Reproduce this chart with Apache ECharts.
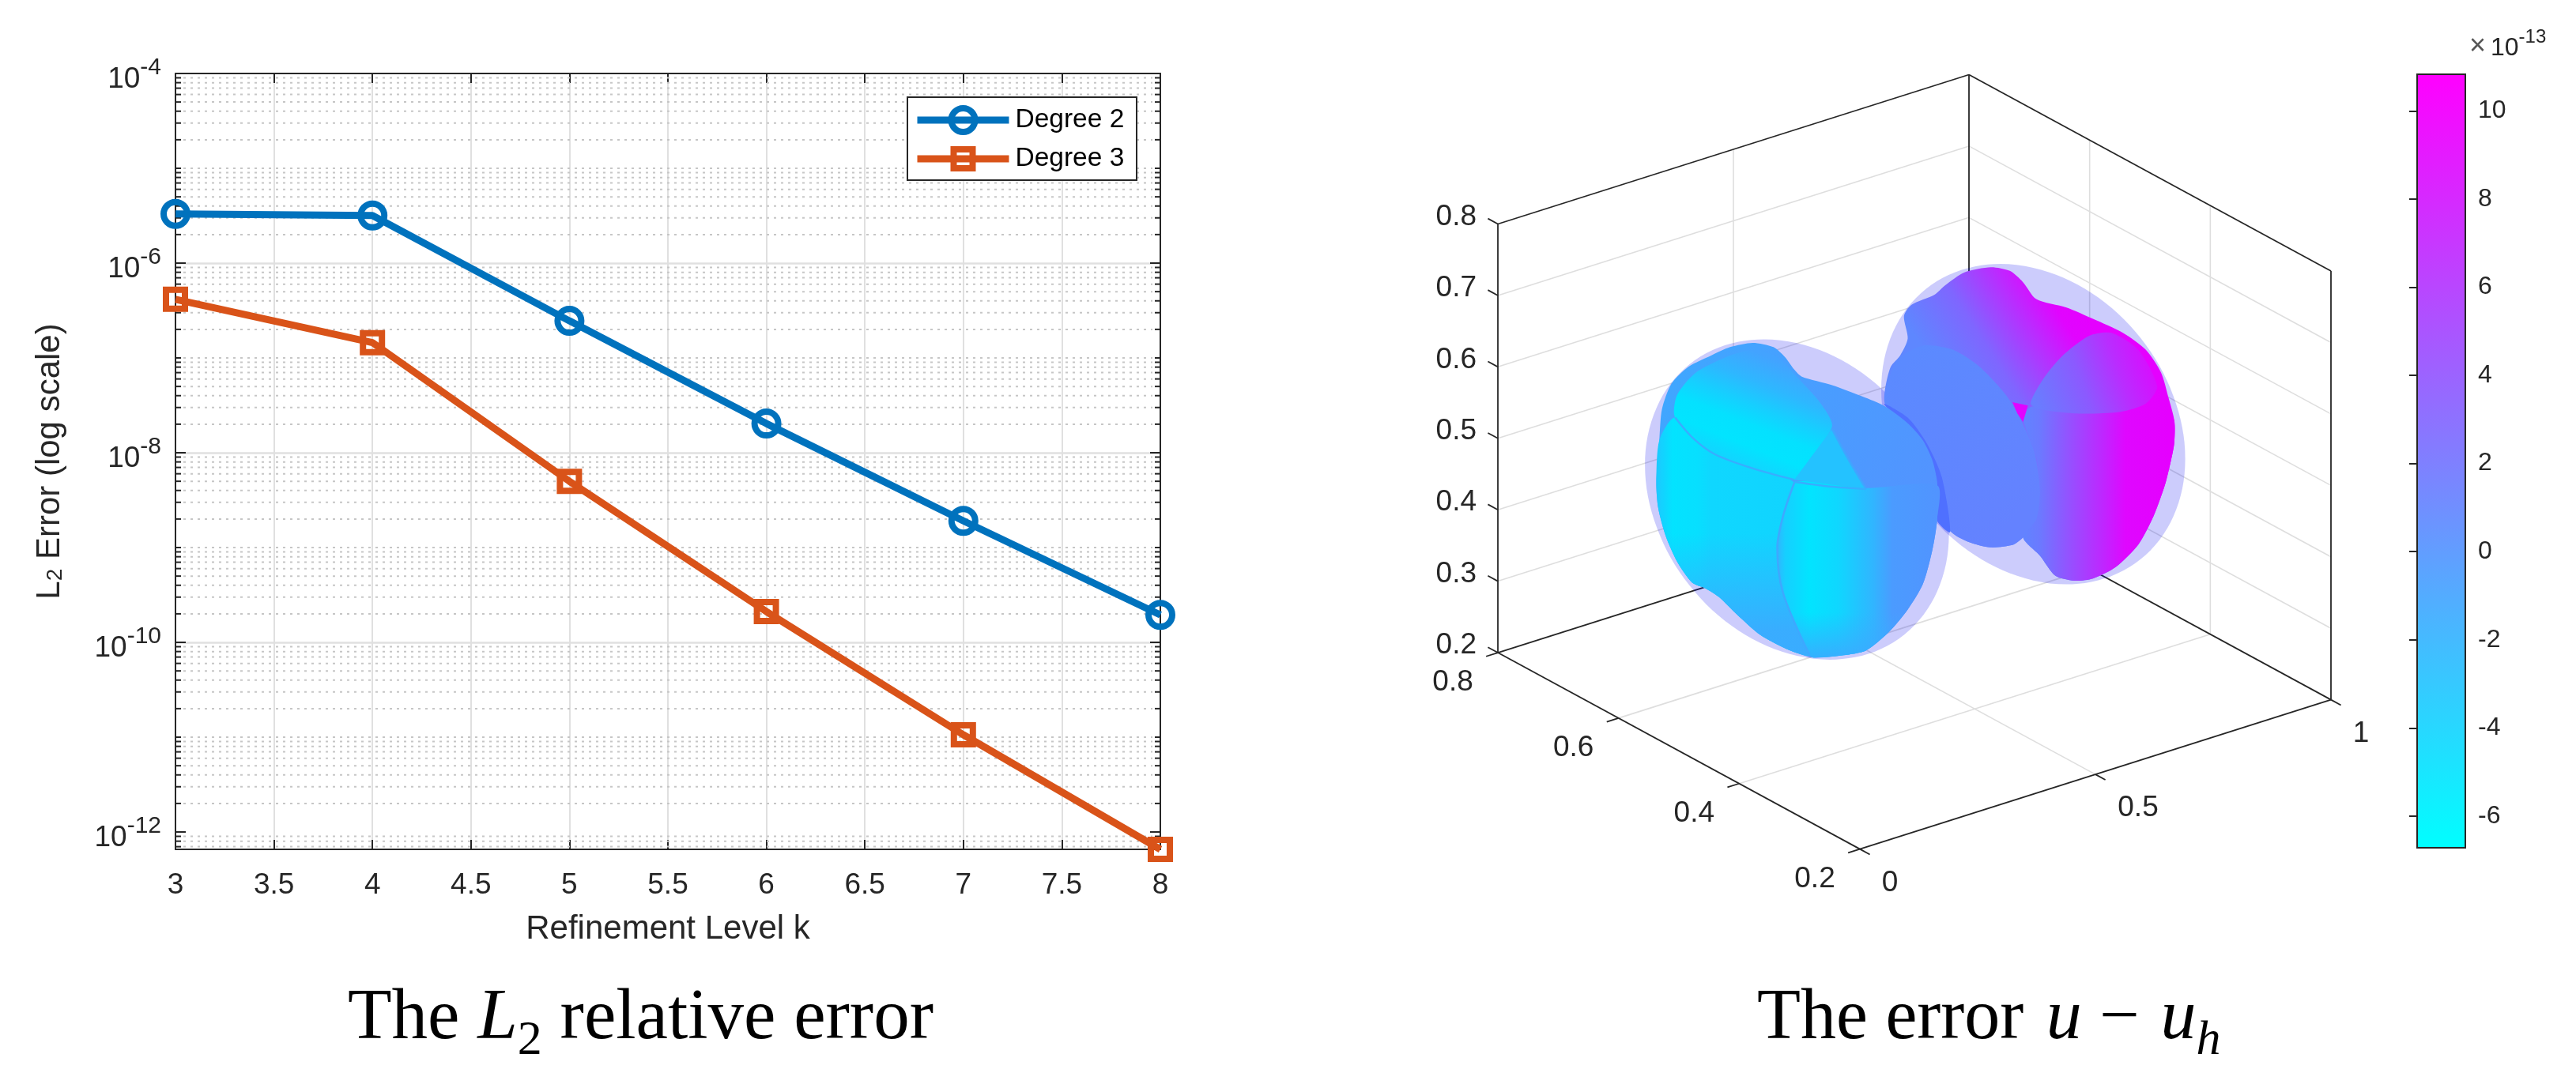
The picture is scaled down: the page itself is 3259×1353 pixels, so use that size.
<!DOCTYPE html>
<html>
<head>
<meta charset="utf-8">
<style>html,body{margin:0;padding:0;background:#fff;overflow:hidden}#chart{width:3259px;height:1353px}</style>
<script src="https://cdn.jsdelivr.net/npm/echarts@6/dist/echarts.min.js"></script>
</head>
<body>
<div id="chart"></div>
<script>
// ---------- left panel data ----------
const levels = [3, 4, 5, 6, 7, 8];
const degree2 = [3.3e-6, 3.18e-6, 2.46e-7, 2.03e-8, 1.91e-9, 1.95e-10];
const degree3 = [4.15e-7, 1.45e-7, 5.0e-9, 2.11e-10, 1.06e-11, 6.56e-13];
const errMin = 6.56e-13, errMax = 1e-4;
const decadeLabels = [1e-12, 1e-10, 1e-8, 1e-6, 1e-4];
const allDecades = [1e-13, 1e-12, 1e-11, 1e-10, 1e-9, 1e-8, 1e-7, 1e-6, 1e-5];
const oddDecades = [1e-11, 1e-9, 1e-7, 1e-5];
const mantissas = [2, 3, 4, 5, 6, 7, 8, 9];

// ---------- right panel: axes of the 3D box ----------
const xTicks3d = [0, 0.5, 1];
const yTicks3d = [0.2, 0.4, 0.6, 0.8];
const zTicks3d = [0.2, 0.3, 0.4, 0.5, 0.6, 0.7, 0.8];

// ---------- right panel: surfaces, outlines ----------
const shellLeft = [[869,1053],[838,1256],[751,1409],[621,1489],[467,1484],[313,1395],[183,1235],[96,1028],[65,807],[96,604],[183,451],[313,371],[467,376],[621,465],[751,625],[838,832]];
const shellRight = [[1494,786],[1463,989],[1376,1142],[1246,1222],[1092,1217],[938,1128],[808,968],[721,761],[690,540],[721,337],[808,184],[938,104],[1092,109],[1246,198],[1376,358],[1463,565]];
const leftBody = [[350,375],[405,390],[435,425],[460,470],[480,495],[560,525],[640,565],[700,600],[760,660],[800,720],[825,790],[838,870],[838,1000],[825,1110],[800,1230],[760,1320],[710,1400],[650,1465],[590,1482],[510,1490],[440,1460],[370,1410],[310,1340],[260,1275],[225,1245],[190,1225],[150,1150],[120,1060],[100,960],[95,870],[103,720],[110,610],[135,520],[180,460],[240,420],[290,390]];
const leftUpper = [[145,640],[150,560],[200,480],[290,420],[355,400],[420,430],[470,500],[530,590],[560,670],[500,790],[460,860],[350,820],[250,770]];
const leftLower = [[103,720],[145,640],[250,770],[460,870],[430,990],[415,1100],[430,1260],[500,1480],[440,1460],[370,1410],[310,1340],[260,1275],[225,1245],[190,1225],[150,1150],[120,1060],[100,960],[95,870]];
const leftRight = [[460,870],[650,890],[838,880],[838,1000],[825,1110],[800,1230],[760,1320],[710,1400],[650,1465],[590,1482],[510,1490],[500,1480],[430,1260],[415,1100],[430,990]];
const leftWedge = [[460,860],[560,680],[600,780],[650,893]];
const rightBody = [[980,107],[1030,120],[1065,160],[1100,220],[1180,250],[1250,290],[1330,340],[1390,400],[1430,480],[1450,570],[1465,650],[1465,730],[1455,800],[1440,880],[1410,990],[1370,1090],[1310,1170],[1250,1210],[1200,1218],[1150,1200],[1110,1130],[1065,1065],[1040,1090],[980,1100],[920,1080],[875,1045],[838,1005],[800,800],[700,590],[700,540],[715,460],[740,420],[760,360],[750,280],[770,240],[830,205],[860,170],[910,125]];
const rightMiddle = [[700,590],[730,440],[800,385],[880,400],[950,460],[1020,560],[1060,650],[1095,760],[1110,900],[1100,1000],[1065,1065],[1040,1090],[980,1100],[920,1080],[875,1045],[845,950],[810,800],[760,660]];
const rightCrescent = [[697,590],[760,640],[810,730],[850,850],[872,1045],[838,1005],[825,860],[785,720],[730,640]];
const rightLobe = [[1065,640],[1100,780],[1110,900],[1100,1000],[1065,1065],[1110,1130],[1150,1200],[1200,1218],[1250,1210],[1310,1170],[1370,1090],[1410,990],[1440,880],[1455,800],[1465,730],[1465,650],[1430,540],[1390,590],[1290,625],[1090,600]];
const rightCap = [[1085,590],[1120,500],[1170,420],[1240,350],[1300,340],[1370,400],[1420,530],[1390,590],[1320,620],[1200,625],[1110,610]];
const rightTip = [[1037,585],[1078,597],[1065,655],[1050,625]];
const seamUpper = [[145,640],[190,710],[250,770],[350,820],[460,860]];
const seamLower = [[460,870],[430,990],[415,1100],[430,1260],[500,1480]];
const seamWedge = [[560,680],[600,780],[650,893]];
const seamFlat = [[460,868],[560,885],[650,893]];

// ---------- colour bar ----------
const cbMin = -6.72, cbMax = 10.83;
const cbTicks = [-6, -4, -2, 0, 2, 4, 6, 8, 10];

// ---------- helpers ----------
const SANS = '"Liberation Sans", Arial, sans-serif';
const SERIF = '"Liberation Serif", serif';
const INK = '#262626';
const BLUE = '#0072BD', ORANGE = '#D95319';

function cool(v, alpha) {
  const t = Math.max(0, Math.min(1, (v - cbMin) / (cbMax - cbMin)));
  const r = 255 * t * 0.9, g = 255 * (1 - t) * 0.9, b = 255;
  return 'rgba(' + Math.round(r) + ',' + Math.round(g) + ',' + b + ',' + (alpha === undefined ? 1 : alpha) + ')';
}
function grad(from, to, stops) { return { from, to, stops }; }
const SOFT = 0.25;
const surfaceLayers = [
  { pts: shellLeft, smooth: 0.35, fill: 'rgba(0,0,240,0.2)' },
  { pts: shellRight, smooth: 0.35, fill: 'rgba(0,0,240,0.2)' },
  { pts: rightBody, smooth: SOFT, g: grad([850,500],[1200,200],[[0,0.5],[0.35,3],[0.65,7.5],[0.85,10.5],[1,10.8]]) },
  { pts: rightMiddle, smooth: SOFT, g: grad([700,400],[1110,900],[[0,0.2],[1,0.9]]) },
  { pts: rightCrescent, smooth: SOFT, fill: '#4f70ff' },
  { pts: rightLobe, smooth: SOFT, g: grad([1070,800],[1450,800],[[0,0.8],[0.1,1.5],[0.3,4.5],[0.55,8],[0.7,10.3],[1,10.8]]) },
  { pts: rightCap, smooth: SOFT, g: grad([1100,600],[1420,450],[[0,1.2],[0.4,4],[0.7,7.5],[1,10.2]]) },
  { pts: rightTip, g: grad([1040,600],[1080,600],[[0,10.5],[1,10.5]]) },
  { pts: leftBody, smooth: SOFT, g: grad([100,400],[838,900],[[0,-2],[1,-0.4]]) },
  { pts: leftUpper, smooth: SOFT, g: grad([310,810],[420,440],[[0,-5.2],[0.2,-6.6],[0.38,-6.4],[0.55,-5],[0.75,-3.2],[1,-1.6]]) },
  { pts: leftLower, smooth: SOFT, g: grad([95,900],[460,900],[[0,-4.5],[0.12,-6.5],[0.3,-6.2],[0.4,-5.6],[1,-5.4]]) },
  { pts: leftLower, smooth: SOFT, g: grad([95,1050],[95,1400],[[0,-2,0],[1,-2,0.9]]) },
  { pts: leftRight, smooth: SOFT, g: grad([415,1000],[838,1000],[[0,-3],[0.05,-5],[0.2,-6.6],[0.38,-5.6],[0.6,-3],[0.72,-1],[1,-0.5]]) },
  { pts: leftRight, smooth: SOFT, g: grad([415,1330],[415,1490],[[0,-2.2,0],[1,-2.2,0.9]]) },
  { pts: leftWedge, fill: cool(-4) }
];
const seams = [
  { pts: seamUpper, color: cool(-2.5) },
  { pts: seamLower, color: cool(-2) },
  { pts: seamWedge, color: cool(-1.8) },
  { pts: seamFlat, color: cool(-2.5) }
];

// orthographic view of the 3D box, in units of the hidden view axes
function project(x, y, z) {
  return [2353 + 596 * x - 763.3 * (y - 0.2), 1074.6 - 189 * x - 414.3 * (y - 0.2) - 904.2 * (z - 0.2)];
}
function seg(api, a, b, stroke, width) {
  const p = api.coord(project(a[0], a[1], a[2]));
  const q = api.coord(project(b[0], b[1], b[2]));
  return { type: 'line', shape: { x1: p[0], y1: p[1], x2: q[0], y2: q[1] }, style: { stroke, lineWidth: width } };
}
function text3d(api, at, dx, dy, label, align) {
  const p = api.coord(project(at[0], at[1], at[2]));
  return { type: 'text', style: { x: p[0] + dx, y: p[1] + dy, text: label, font: '37px ' + SANS, fill: INK, align: align, verticalAlign: 'middle' } };
}
function renderBox(params, api) {
  const kids = [];
  const GRID = '#dedede';
  zTicks3d.forEach(function (z) {
    if (z > 0.2 && z < 0.8) {
      kids.push(seg(api, [0, 0.8, z], [1, 0.8, z], GRID, 1.6));
      kids.push(seg(api, [1, 0.8, z], [1, 0.2, z], GRID, 1.6));
    }
  });
  xTicks3d.forEach(function (x) {
    if (x > 0 && x < 1) {
      kids.push(seg(api, [x, 0.8, 0.2], [x, 0.8, 0.8], GRID, 1.6));
      kids.push(seg(api, [x, 0.2, 0.2], [x, 0.8, 0.2], GRID, 1.6));
    }
  });
  yTicks3d.forEach(function (y) {
    if (y > 0.2 && y < 0.8) {
      kids.push(seg(api, [1, y, 0.2], [1, y, 0.8], GRID, 1.6));
      kids.push(seg(api, [0, y, 0.2], [1, y, 0.2], GRID, 1.6));
    }
  });
  const edges = [
    [[0,0.8,0.8],[1,0.8,0.8]], [[1,0.8,0.8],[1,0.2,0.8]],
    [[0,0.8,0.2],[0,0.8,0.8]], [[1,0.2,0.2],[1,0.2,0.8]], [[1,0.8,0.2],[1,0.8,0.8]],
    [[0,0.8,0.2],[1,0.8,0.2]], [[1,0.8,0.2],[1,0.2,0.2]],
    [[0,0.8,0.2],[0,0.2,0.2]], [[0,0.2,0.2],[1,0.2,0.2]]
  ];
  edges.forEach(function (e) { kids.push(seg(api, e[0], e[1], INK, 1.8)); });
  zTicks3d.forEach(function (z) {
    kids.push(seg(api, [0, 0.8, z], [0, 0.8165, z], INK, 1.8));
    kids.push(text3d(api, [0, 0.8, z], -27, -9, z.toFixed(1), 'right'));
  });
  yTicks3d.forEach(function (y) {
    kids.push(seg(api, [0, y, 0.2], [-0.025, y, 0.2], INK, 1.8));
    kids.push(text3d(api, [0, y, 0.2], -57, 38, y.toFixed(1), 'center'));
  });
  xTicks3d.forEach(function (x) {
    kids.push(seg(api, [x, 0.2, 0.2], [x, 0.1835, 0.2], INK, 1.8));
    kids.push(text3d(api, [x, 0.2, 0.2], x === 0.5 ? 54 : 38, 43, String(x), 'center'));
  });
  return { type: 'group', children: kids };
}
function renderSurface(params, api) {
  const layer = surfaceLayers[api.value(0)];
  let fill = layer.fill;
  if (layer.g) {
    const a = api.coord(layer.g.from), b = api.coord(layer.g.to);
    fill = new echarts.graphic.LinearGradient(a[0], a[1], b[0], b[1],
      layer.g.stops.map(function (s) { return { offset: s[0], color: cool(s[1], s[2]) }; }), true);
  }
  return { type: 'polygon', shape: { points: layer.pts.map(function (p) { return api.coord(p); }), smooth: layer.smooth || 0 }, style: { fill: fill } };
}
function renderSeam(params, api) {
  const s = seams[api.value(0)];
  return { type: 'polyline', shape: { points: s.pts.map(function (p) { return api.coord(p); }), smooth: 0.3 }, style: { stroke: s.color, lineWidth: 2.5, fill: null } };
}
function renderMinor(params, api) {
  const v = api.value(0);
  const a = api.coord([3, v]), b = api.coord([8, v]);
  return { type: 'group', children: [
    { type: 'line', shape: { x1: a[0] + 10, y1: a[1], x2: b[0] - 10, y2: b[1] }, style: { stroke: '#c6c6c6', lineWidth: 2, lineDash: [3, 6] } },
    { type: 'line', shape: { x1: a[0], y1: a[1], x2: a[0] + 7, y2: a[1] }, style: { stroke: INK, lineWidth: 2 } },
    { type: 'line', shape: { x1: b[0] - 7, y1: b[1], x2: b[0], y2: b[1] }, style: { stroke: INK, lineWidth: 2 } }
  ] };
}
function renderColorbar(params, api) {
  const a = api.coord([0, cbMax]), b = api.coord([1, cbMin]);
  return { type: 'rect', shape: { x: a[0], y: a[1], width: b[0] - a[0], height: b[1] - a[1] },
    style: { fill: new echarts.graphic.LinearGradient(0, 0, 0, 1, [
      { offset: 0, color: 'rgb(255,0,255)' }, { offset: 1, color: 'rgb(0,255,255)' } ]), stroke: INK, lineWidth: 2 } };
}
const minorValues = [];
allDecades.forEach(function (d) {
  mantissas.forEach(function (m) {
    const v = d * m;
    if (v > errMin && v < errMax) minorValues.push([v]);
  });
});
oddDecades.forEach(function (d) { minorValues.push([d]); });

const chart = echarts.init(document.getElementById('chart'), null, { renderer: 'canvas' });
const supRich = {
  b: { fontSize: 37, fontFamily: SANS, color: INK, verticalAlign: 'bottom', lineHeight: 52 },
  s: { fontSize: 30, fontFamily: SANS, color: INK, verticalAlign: 'top', padding: [4, 0, 0, 0] }
};
const legendText = { fontSize: 33.5, color: '#000', fontFamily: SANS, padding: [0, 0, 0, 3] };
chart.setOption({
  animation: false,
  backgroundColor: '#ffffff',
  textStyle: { fontFamily: SANS },
  title: [
    { text: '{t|The }{i|L}{s|2}{t| relative error}', left: 440, top: 1231, padding: 0,
      textStyle: { fontFamily: SERIF, fontSize: 91, fontWeight: 'normal', color: '#000',
        rich: { t: { fontFamily: SERIF, fontSize: 91, lineHeight: 118 }, i: { fontFamily: SERIF, fontSize: 91, fontStyle: 'italic', lineHeight: 118 }, s: { fontFamily: SERIF, fontSize: 62, verticalAlign: 'bottom' } } } },
    { text: '{t|The error }{i|u}{t| \u2212 }{j|u}{s|h}', left: 2223, top: 1231, padding: 0,
      textStyle: { fontFamily: SERIF, fontSize: 90, fontWeight: 'normal', color: '#000',
        rich: { t: { fontFamily: SERIF, fontSize: 90, lineHeight: 118 }, i: { fontFamily: SERIF, fontSize: 90, fontStyle: 'italic', lineHeight: 118, padding: [0, 0, 0, 6] }, j: { fontFamily: SERIF, fontSize: 90, fontStyle: 'italic', lineHeight: 118, padding: [0, 0, 0, 4] }, s: { fontFamily: SERIF, fontSize: 62, fontStyle: 'italic', verticalAlign: 'bottom' } } } },
    { text: '{x|\u00d7}{b|10}{s|-13}', left: 3124, top: 31, padding: 0,
      textStyle: { fontFamily: SANS, fontSize: 32, fontWeight: 'normal', color: INK,
        rich: { x: { fontFamily: SANS, fontSize: 36, color: '#555', verticalAlign: 'bottom' }, b: { fontSize: 32, fontFamily: SANS, color: INK, verticalAlign: 'bottom', lineHeight: 46, padding: [0, 0, 0, 6] }, s: { fontSize: 24, fontFamily: SANS, color: INK, verticalAlign: 'top', padding: [4, 0, 0, 0] } } } }
  ],
  legend: [
    { data: ['Degree 2'], left: 1156, top: 133, padding: 0, itemWidth: 116, itemHeight: 37.5, z: 10, textStyle: legendText,
      lineStyle: { color: BLUE, width: 9 }, itemStyle: { color: 'rgba(0,0,0,0)', borderColor: BLUE, borderWidth: 8 } },
    { data: ['Degree 3'], left: 1156, top: 184, padding: 0, itemWidth: 116, itemHeight: 30, z: 10, textStyle: legendText,
      lineStyle: { color: ORANGE, width: 9 }, itemStyle: { color: 'rgba(0,0,0,0)', borderColor: ORANGE, borderWidth: 8 } }
  ],
  graphic: [
    { type: 'rect', z: 5, shape: { x: 1148, y: 123, width: 290, height: 105 }, style: { fill: '#fff', stroke: INK, lineWidth: 2 } }
  ],
  grid: [
    { left: 222, top: 93, width: 1246, height: 982, outerBoundsMode: 'none' },
    { left: 1750, top: 60, width: 1300, height: 1100, outerBoundsMode: 'none' },
    { left: 2050, top: 300, width: 750, height: 560, outerBoundsMode: 'none' },
    { left: 3058, top: 94, width: 61, height: 979, outerBoundsMode: 'none' }
  ],
  xAxis: [
    { gridIndex: 0, type: 'value', min: 3, max: 8, interval: 0.5,
      name: 'Refinement Level k', nameLocation: 'middle', nameGap: 80,
      nameTextStyle: { fontSize: 42, fontFamily: SANS, color: INK },
      axisLine: { lineStyle: { color: INK, width: 2 } },
      axisTick: { inside: true, length: 12, lineStyle: { color: INK, width: 2 } },
      axisLabel: { fontSize: 37, fontFamily: SANS, color: INK, margin: 27 },
      splitLine: { show: true, showMinLine: false, showMaxLine: false, lineStyle: { color: '#e0e0e0', width: 2 } } },
    { gridIndex: 0, type: 'value', min: 3, max: 8, interval: 0.5, position: 'top',
      axisLine: { lineStyle: { color: INK, width: 2 } },
      axisTick: { inside: true, length: 12, lineStyle: { color: INK, width: 2 } },
      axisLabel: { show: false }, splitLine: { show: false } },
    { gridIndex: 1, type: 'value', min: 1750, max: 3050, show: false },
    { gridIndex: 2, type: 'value', min: 0, max: 1568, show: false },
    { gridIndex: 3, type: 'value', min: 0, max: 1, show: false }
  ],
  yAxis: [
    { gridIndex: 0, type: 'log', min: errMin, max: errMax,
      name: '{a|L}{s|2}{a| Error (log scale)}', nameLocation: 'middle', nameGap: 138, nameRotate: 90,
      nameTextStyle: { rich: { a: { fontSize: 42, fontFamily: SANS, color: INK }, s: { fontSize: 28, fontFamily: SANS, color: INK, verticalAlign: 'bottom', padding: [14, 0, 0, 0] } } },
      axisLine: { lineStyle: { color: INK, width: 2 } },
      axisTick: { inside: true, length: 13, lineStyle: { color: INK, width: 2 }, customValues: decadeLabels },
      axisLabel: { margin: 18, customValues: decadeLabels, rich: supRich,
        formatter: function (v) { return '{b|10}{s|' + Math.round(Math.log10(v)) + '}'; } },
      splitLine: { show: true, showMinLine: false, showMaxLine: false, lineStyle: { color: '#e0e0e0', width: 2.5 } } },
    { gridIndex: 0, type: 'log', min: errMin, max: errMax, position: 'right',
      axisLine: { lineStyle: { color: INK, width: 2 } },
      axisTick: { inside: true, length: 13, lineStyle: { color: INK, width: 2 }, customValues: decadeLabels },
      axisLabel: { show: false }, splitLine: { show: false } },
    { gridIndex: 1, type: 'value', min: 60, max: 1160, inverse: true, show: false },
    { gridIndex: 2, type: 'value', min: 0, max: 1568, inverse: true, show: false },
    { gridIndex: 3, type: 'value', min: cbMin, max: cbMax, position: 'right', z: 5,
      axisLine: { show: false },
      axisTick: { inside: true, length: 10, lineStyle: { color: INK, width: 2 }, customValues: cbTicks },
      axisLabel: { margin: 16, fontSize: 32, fontFamily: SANS, color: INK, customValues: cbTicks },
      splitLine: { show: false } }
  ],
  series: [
    { type: 'custom', name: 'minor grid', xAxisIndex: 0, yAxisIndex: 0, z: 1, clip: false, silent: true,
      encode: { y: 0 }, renderItem: renderMinor, data: minorValues },
    { type: 'line', name: 'Degree 2', xAxisIndex: 0, yAxisIndex: 0, z: 3, clip: false,
      data: levels.map(function (k, i) { return [k, degree2[i]]; }),
      symbol: 'circle', symbolSize: 30, showAllSymbol: true,
      lineStyle: { color: BLUE, width: 9 },
      itemStyle: { color: 'rgba(0,0,0,0)', borderColor: BLUE, borderWidth: 8 } },
    { type: 'line', name: 'Degree 3', xAxisIndex: 0, yAxisIndex: 0, z: 3, clip: false,
      data: levels.map(function (k, i) { return [k, degree3[i]]; }),
      symbol: 'rect', symbolSize: 24, showAllSymbol: true,
      lineStyle: { color: ORANGE, width: 9 },
      itemStyle: { color: 'rgba(0,0,0,0)', borderColor: ORANGE, borderWidth: 8 } },
    { type: 'custom', name: 'box', xAxisIndex: 2, yAxisIndex: 2, z: 1, clip: false, silent: true,
      renderItem: renderBox, data: [[2000, 100]] },
    { type: 'custom', name: 'surfaces', xAxisIndex: 3, yAxisIndex: 3, z: 2, clip: false, silent: true,
      encode: { x: 0 }, renderItem: renderSurface, data: surfaceLayers.map(function (l, i) { return [i]; }) },
    { type: 'custom', name: 'seams', xAxisIndex: 3, yAxisIndex: 3, z: 3, clip: false, silent: true,
      encode: { x: 0 }, renderItem: renderSeam, data: seams.map(function (l, i) { return [i]; }) },
    { type: 'custom', name: 'colour bar', xAxisIndex: 4, yAxisIndex: 4, z: 2, clip: false, silent: true,
      renderItem: renderColorbar, data: [[0, 0]] }
  ]
});
</script>
</body>
</html>
